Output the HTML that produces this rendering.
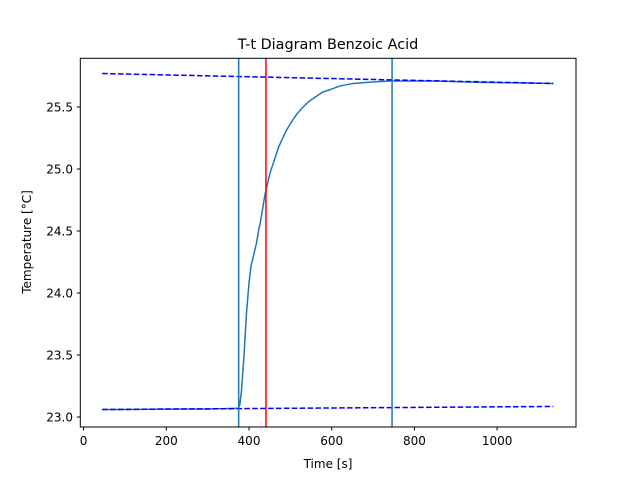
<!DOCTYPE html>
<html><head><meta charset="utf-8"><style>
html,body{margin:0;padding:0;background:#fff;}
svg{display:block;font-family:"DejaVu Sans","Liberation Sans",sans-serif;}
</style></head><body>
<svg id="chart" width="640" height="480" viewBox="0 0 640 480">
<rect width="640" height="480" fill="#fff"/>
<text x="328" y="49" font-size="14.4" text-anchor="middle">T-t Diagram Benzoic Acid</text>
<g id="plot"></g>
<rect x="80.3" y="58.3" width="495.7" height="368.7" fill="none" stroke="#000" stroke-width="1"/>
<text x="328" y="468" font-size="12" text-anchor="middle">Time [s]</text>
<text transform="translate(31,242) rotate(-90)" font-size="12" text-anchor="middle">Temperature [°C]</text>
</svg>
<script>
const xTicks = [0, 200, 400, 600, 800, 1000];
const yTicks = [23.0, 23.5, 24.0, 24.5, 25.0, 25.5];
const timeData = [45, 100, 200, 300, 370, 374, 378, 382, 388, 394, 400, 405, 410, 418, 424, 427, 432, 439, 446, 452, 459, 466, 472, 479, 490, 503, 515, 528, 543, 560, 578, 596, 620, 652, 690, 741, 800, 850, 950, 1050, 1136];
const tempData = [23.06, 23.06, 23.065, 23.065, 23.07, 23.07, 23.1, 23.22, 23.5, 23.84, 24.08, 24.22, 24.29, 24.4, 24.52, 24.56, 24.66, 24.80, 24.9, 24.98, 25.05, 25.12, 25.18, 25.23, 25.31, 25.38, 25.44, 25.49, 25.54, 25.58, 25.62, 25.64, 25.67, 25.69, 25.70, 25.71, 25.71, 25.71, 25.70, 25.695, 25.69];
const upperFitT = [45, 1136];
const upperFitY = [25.77, 25.69];
const lowerFitT = [45, 1136];
const lowerFitY = [23.06, 23.085];
const verticalLines = [375, 746];
const meanLine = [441];

const NS = "http://www.w3.org/2000/svg";
const sx = v => 83.6 + v * 0.4135;
const sy = v => 417 - (v - 23) * 124;
const plot = document.getElementById('plot');
const svg = document.getElementById('chart');
function mk(tag, attrs, parent) {
  const e = document.createElementNS(NS, tag);
  for (const k in attrs) e.setAttribute(k, attrs[k]);
  (parent || plot).appendChild(e);
  return e;
}
xTicks.forEach(t => {
  const l = mk('line', {x1: sx(t), x2: sx(t), y1: 427, y2: 430.5, stroke: '#000'}, svg);
  
  
  const tx = mk('text', {x: sx(t), y: 445, 'font-size': 12, 'text-anchor': 'middle'}, svg);
  tx.textContent = t;
  
  
});
yTicks.forEach(t => {
  const l = mk('line', {x1: 76.8, x2: 80.3, y1: sy(t), y2: sy(t), stroke: '#000'}, svg);
  
  
  const tx = mk('text', {x: 73, y: sy(t) + 4.5, 'font-size': 12, 'text-anchor': 'end'}, svg);
  tx.textContent = t.toFixed(1);
  
  
});
const pts = (xs, ys) => xs.map((x, i) => sx(x) + ',' + sy(ys[i])).join(' ');
const curve = mk('polyline', {points: pts(timeData, tempData), fill: 'none', stroke: '#1f77b4', 'stroke-width': 1.5});


const up = mk('polyline', {points: pts(upperFitT, upperFitY), fill: 'none', stroke: '#0000ff', 'stroke-width': 1.5, 'stroke-dasharray': '5.5,2.4'});


const lo = mk('polyline', {points: pts(lowerFitT, lowerFitY), fill: 'none', stroke: '#0000ff', 'stroke-width': 1.5, 'stroke-dasharray': '5.5,2.4'});


verticalLines.forEach(v => {
  const l = mk('line', {x1: sx(v), x2: sx(v), y1: 58.3, y2: 427, stroke: '#1f77b4', 'stroke-width': 1.5});
  
  
});
meanLine.forEach(v => {
  const l = mk('line', {x1: sx(v), x2: sx(v), y1: 58.3, y2: 427, stroke: '#ff0000', 'stroke-width': 1.5});
  
  
});
</script>
</body></html>
